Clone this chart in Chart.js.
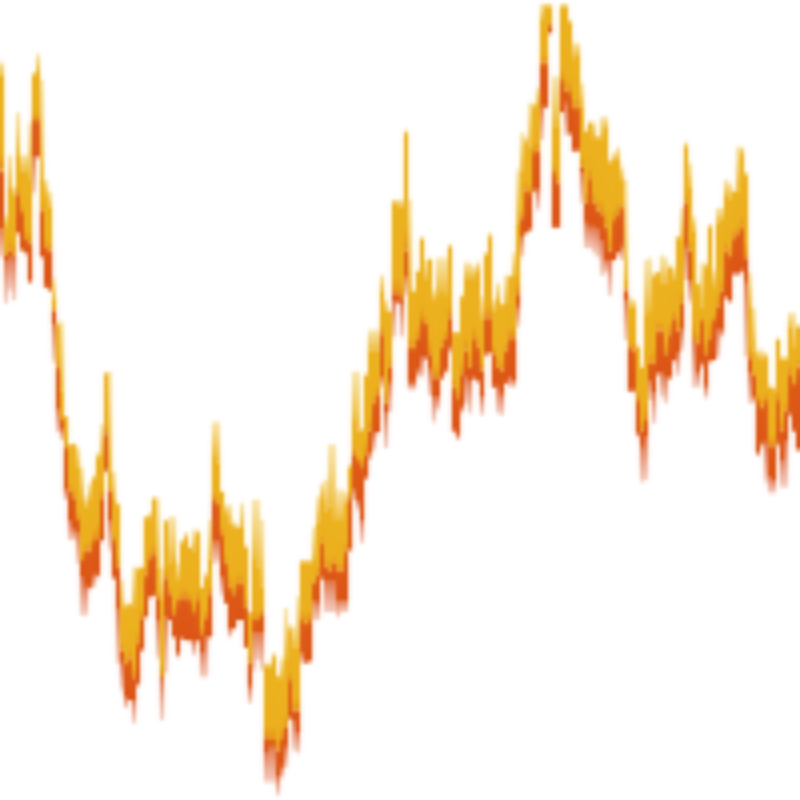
<!DOCTYPE html>
<html>
<head>
<meta charset="utf-8">
<title>Band chart</title>
<script src="https://cdn.jsdelivr.net/npm/chart.js@4/dist/chart.umd.min.js"></script>
<style>
    html, body { margin: 0; padding: 0; background: #fff; }
    #wrap { width: 800px; height: 800px; }
</style>
</head>
<body>
<div id="wrap"><canvas id="chart"></canvas></div>
<script>
// one entry per column, axis runs 0 (top) to 800 (bottom)
const paleTop = [
    62,215,155,187,113,155,155,123,73,54,
    80,180,192,278,322,322,417,445,443,447,
    467,497,483,475,453,425,372,372,472,503,
    580,603,603,567,567,567,517,513,497,498,
    567,520,517,517,563,542,533,547,530,530,
    587,573,520,422,422,492,505,505,522,527,
    503,547,613,500,500,520,663,663,653,675,
    658,608,625,627,597,560,560,560,527,497,
    483,480,445,445,490,490,493,465,372,372,
    430,375,330,330,330,275,300,310,200,200,
    200,130,200,290,270,237,260,258,290,258,
    258,258,245,333,333,295,262,263,267,262,
    297,253,233,300,283,303,275,275,253,170,
    133,137,103,103,88,4,4,4,77,77,
    4,4,20,43,43,83,130,122,122,137,
    117,117,160,153,147,167,180,297,300,347,
    367,260,258,273,272,255,258,267,267,237,
    208,142,163,217,283,263,263,225,270,208,
    208,180,183,190,147,147,173,273,308,350,
    350,353,387,387,338,357,357,313,313,325
];
const yellowTop = [
    75,225,187,195,153,170,170,177,75,72,
    177,193,207,300,325,390,417,445,445,467,
    497,507,497,480,457,453,375,470,500,505,
    608,608,605,605,570,568,518,517,500,567,
    597,522,563,560,580,542,537,548,550,533,
    588,577,558,453,462,492,513,522,527,527,
    527,547,613,560,567,587,667,667,657,677,
    677,660,630,647,647,563,563,563,560,523,
    497,510,507,517,520,520,503,467,420,430,
    430,375,350,350,350,290,312,312,203,205,
    207,133,292,292,272,240,280,260,300,293,
    292,293,247,333,333,297,277,277,277,270,
    320,255,237,310,300,305,303,277,275,223,
    170,142,147,107,103,20,7,8,125,125,
    8,8,23,57,55,107,132,123,137,138,
    137,127,163,160,160,180,280,307,307,347,
    368,313,312,277,273,283,283,267,280,238,
    237,147,187,230,285,307,267,227,285,223,
    220,195,198,192,190,153,175,305,350,357,
    360,357,387,390,340,360,360,327,347,327
];
const redTop = [
    170,255,250,255,193,212,240,243,120,120,
    210,247,250,310,367,420,447,490,497,520,
    560,550,550,540,537,497,433,490,540,567,
    650,663,658,677,643,617,575,557,553,597,
    677,577,593,613,600,597,597,600,612,600,
    633,617,593,500,503,533,563,587,593,583,
    583,607,663,620,620,613,737,740,740,750,
    737,727,680,710,710,620,623,620,583,575,
    543,567,570,563,570,570,550,497,453,460,
    465,453,430,403,393,333,403,367,293,293,
    297,250,347,347,337,320,323,353,377,377,
    347,337,317,387,397,373,350,367,337,347,
    370,317,317,353,367,370,350,337,337,293,
    217,190,192,152,150,63,63,25,172,182,
    80,90,92,107,107,167,203,177,203,210,
    213,227,250,220,213,207,290,347,350,400,
    430,420,363,363,330,330,353,333,317,330,
    303,203,250,340,343,320,353,337,320,307,
    290,250,255,237,233,227,257,357,375,400,
    407,400,445,445,400,430,410,373,383,367
];
const redBottom = [
    230,260,258,258,233,250,253,282,157,157,
    257,287,290,325,410,430,490,520,530,533,
    577,587,587,575,575,540,470,520,578,610,
    663,697,700,700,683,650,617,597,595,620,
    680,617,620,637,653,637,640,640,642,640,
    653,637,637,542,542,577,603,628,628,620,
    620,647,687,633,633,633,753,747,747,777,
    767,747,717,720,733,653,662,660,600,603,
    577,582,582,582,600,600,600,550,490,500,
    520,477,453,433,432,377,413,383,300,302,
    303,277,383,383,370,357,357,370,397,397,
    377,370,347,430,435,407,377,380,377,380,
    397,353,353,387,387,395,383,377,380,307,
    237,233,230,190,190,107,107,33,227,227,
    112,103,133,150,150,173,223,227,227,230,
    240,260,260,260,253,247,300,390,390,433,
    447,437,380,393,373,373,378,378,360,353,
    330,247,280,340,373,363,387,360,360,330,
    330,297,300,273,273,270,283,373,397,453,
    443,443,477,480,443,460,440,413,430,450
];
const paleBottom = [
    257,303,290,300,233,250,253,282,193,157,
    257,287,290,362,432,440,500,540,540,563,
    615,615,590,587,578,542,473,550,578,663,
    690,708,700,723,687,650,617,597,597,658,
    720,673,620,637,658,640,640,642,655,642,
    677,677,637,563,562,595,603,637,630,620,
    620,648,703,670,660,670,782,782,782,795,
    778,767,720,750,753,663,663,663,620,620,
    580,612,612,612,617,612,612,550,500,510,
    543,480,460,450,433,387,448,412,337,303,
    337,295,390,390,377,377,360,395,422,410,
    380,373,353,433,440,413,403,413,380,383,
    415,357,353,387,413,415,383,387,387,327,
    257,233,230,193,210,140,108,33,228,228,
    112,135,135,152,151,203,248,248,253,257,
    275,273,295,260,253,260,340,392,393,437,
    482,480,400,423,375,397,403,378,362,375,
    350,280,302,387,387,367,398,363,360,357,
    337,298,303,275,275,273,357,403,403,455,
    447,482,493,493,447,487,487,417,432,450
];

const columns = paleTop.map((_, i) => i);

function band(upper, lower) {
    return upper.map((v, i) => [v, lower[i]]);
}

// each bar fades down its own height, colour stops are [offset, colour]
function fade(stops) {
    return context => {
        if (!Array.isArray(context.raw)) return stops[0][1];
        const y = context.chart.scales.y;
        const from = y.getPixelForValue(context.raw[0]);
        const to = y.getPixelForValue(context.raw[1]);
        // scale has no size yet on the first pass
        if (!isFinite(from) || !isFinite(to)) return stops[0][1];
        const g = context.chart.ctx.createLinearGradient(0, from, 0, to);
        stops.forEach(s => g.addColorStop(s[0], s[1]));
        return g;
    };
}

function barSet(upper, lower, stops) {
    return {
        data: band(upper, lower),
        backgroundColor: fade(stops),
        borderWidth: 0,
        barPercentage: 1,
        categoryPercentage: 1,
        grouped: false
    };
}

new Chart(document.getElementById('chart'), {
    type: 'bar',
    data: {
        labels: columns,
        datasets: [
            barSet(paleTop, yellowTop, [[0, 'rgba(242,205,100,0.5)'], [1, 'rgba(238,185,50,0.95)']]),
            barSet(yellowTop, redTop, [[0, '#edb220'], [0.82, '#ecb01f'], [1, '#e8921a']]),
            barSet(redTop, redBottom, [[0, '#e5761a'], [0.15, '#de5a17'], [1, '#dc5516']]),
            barSet(redBottom, paleBottom, [[0, 'rgba(222,95,45,0.8)'], [1, 'rgba(226,125,90,0.35)']])
        ]
    },
    options: {
        responsive: true,
        maintainAspectRatio: false,
        animation: false,
        devicePixelRatio: 0.25, // the reference is a 200px picture blown up
        layout: { padding: 0 },
        plugins: { legend: { display: false }, tooltip: { enabled: false } },
        scales: {
            x: { display: false, offset: true },
            y: { display: false, reverse: true, min: 0, max: 800 }
        }
    }
});
</script>
</body>
</html>
